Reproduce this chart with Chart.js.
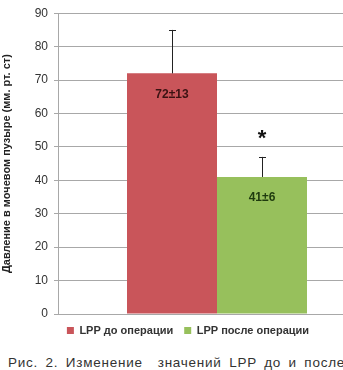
<!DOCTYPE html>
<html><head><meta charset="utf-8">
<script src="https://cdn.jsdelivr.net/npm/chart.js@4"></script>
<style>
html,body{margin:0;padding:0;background:#fff;overflow:hidden;width:343px;height:370px;}
#wrap{position:absolute;left:0;top:0;width:376px;height:346px;}
#cap{position:absolute;left:8px;top:355px;font:13.5px "Liberation Sans",Arial,sans-serif;color:#333;white-space:pre;word-spacing:3px;letter-spacing:0.75px;}
</style></head>
<body>
<div id="wrap"><canvas id="c" width="376" height="346"></canvas></div>
<div id="cap">Рис. 2. Изменение  значений LPP до и после</div>
<script>
const categories = [""];
const seriesNames = ["LPP до операции", "LPP после операции"];
const means = [72, 41];
const errors = [13, 6];
const valueLabels = ["72±13", "41±6"];
const sigMarks = ["", "*"];
const yTicks = [0, 10, 20, 30, 40, 50, 60, 70, 80, 90];
const colors = ["#c9555a", "#97c05c"];
const labelColors = ["#3a1212", "#1e3a0e"];

const overlay = {
  id: 'overlay',
  afterDatasetsDraw(chart) {
    const ctx = chart.ctx, y = chart.scales.y;
    chart.data.datasets.forEach((ds, i) => {
      const bar = chart.getDatasetMeta(i).data[0];
      const x = bar.x;
      const top = y.getPixelForValue(means[i]);
      const et = y.getPixelForValue(means[i] + errors[i]);
      ctx.save();
      ctx.strokeStyle = '#222'; ctx.lineWidth = 1;
      ctx.beginPath();
      ctx.moveTo(Math.round(x)+0.5, top); ctx.lineTo(Math.round(x)+0.5, et);
      ctx.moveTo(Math.round(x)-3, Math.round(et)+0.5); ctx.lineTo(Math.round(x)+4, Math.round(et)+0.5);
      ctx.stroke();
      ctx.fillStyle = labelColors[i];
      ctx.font = 'bold 12px "Liberation Sans", Arial, sans-serif';
      ctx.textAlign = 'center'; ctx.textBaseline = 'middle';
      ctx.fillText(valueLabels[i], x, top + 21);
      if (sigMarks[i]) {
        ctx.fillStyle = '#111';
        ctx.font = 'bold 22px "Liberation Sans", Arial, sans-serif';
        ctx.fillText(sigMarks[i], x, et - 18);
      }
      ctx.restore();
    });
  }
};

new Chart(document.getElementById('c'), {
  type: 'bar',
  data: {
    labels: categories,
    datasets: seriesNames.map((n, i) => ({
      label: n, data: [means[i]], backgroundColor: colors[i], borderWidth: 0,
      categoryPercentage: 0.566, barPercentage: 1
    }))
  },
  options: {
    responsive: false, animation: false,
    layout: { padding: { top: 10, left: 0, right: 0, bottom: 0 } },
    plugins: {
      tooltip: { enabled: false },
      legend: {
        position: 'bottom',
        labels: {
          boxWidth: 7, boxHeight: 7, padding: 11, color: '#333',
          font: { family: '"Liberation Sans", Arial, sans-serif', size: 11, weight: 'bold' }
        }
      }
    },
    scales: {
      x: {
        ticks: { display: false },
        grid: { display: false, drawTicks: false },
        border: { display: false }
      },
      y: {
        min: 0, max: 90,
        afterBuildTicks(s) { s.ticks = yTicks.map(v => ({ value: v })); },
        afterFit(s) { s.width = 58; },
        ticks: { color: '#333', padding: 6, font: { family: '"Liberation Sans", Arial, sans-serif', size: 12 } },
        grid: { color: '#a8a8a8', lineWidth: 1, tickLength: 4 },
        border: { color: '#a8a8a8' },
        title: {
          display: true, text: 'Давление в мочевом пузыре (мм. рт. ст)', color: '#222', padding: 0,
          font: { family: '"Liberation Sans", Arial, sans-serif', size: 11, weight: 'bold' }
        }
      }
    }
  },
  plugins: [overlay]
});
</script>
</body></html>
